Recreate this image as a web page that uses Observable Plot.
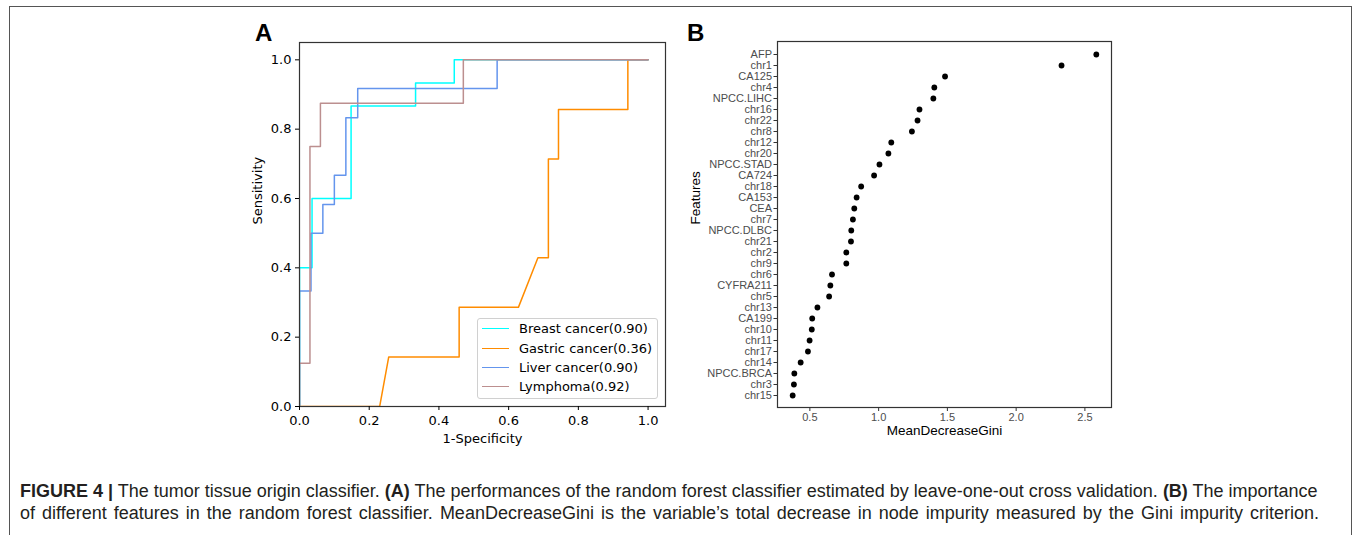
<!DOCTYPE html>
<html><head><meta charset="utf-8">
<script src="https://cdn.jsdelivr.net/npm/d3@7"></script>
<script src="https://cdn.jsdelivr.net/npm/@observablehq/plot@0.6"></script>
<style>
html,body{margin:0;padding:0;background:#fff;}
#page{position:relative;width:1355px;height:535px;overflow:hidden;background:#fff;}
#border{position:absolute;left:9px;top:6px;width:1343px;height:600px;border:1.5px solid #555;box-sizing:border-box;}
.plabel{position:absolute;font-family:"Liberation Sans",Arial,sans-serif;font-weight:bold;font-size:24px;line-height:24px;color:#000;}
#chartA{position:absolute;left:240px;top:20px;}
#chartB{position:absolute;left:680px;top:20px;}
#legendA{position:absolute;left:477px;top:318px;width:181px;height:81px;box-sizing:border-box;border:1px solid #d0d0d0;border-radius:3px;background:rgba(255,255,255,0.85);font-family:"DejaVu Sans",sans-serif;font-size:13px;color:#000;}
.lrow{position:absolute;left:0;height:18px;line-height:18px;white-space:nowrap;}
.lline{position:absolute;left:4px;top:8px;width:27px;height:0;border-top:1.5px solid #000;}
.ltext{position:absolute;left:41px;top:0;}
#caption{position:absolute;left:20px;top:480px;font-family:"Liberation Sans",Arial,sans-serif;font-size:18px;line-height:22px;color:#231f20;white-space:nowrap;}
#caption b{font-weight:bold;}
#cap2{word-spacing:2px;}
</style></head><body>
<div id="page">
  <div id="border"></div>
  <div id="chartA"></div>
  <div id="chartB"></div>
  <div id="legendA"></div>
  <div class="plabel" style="left:255px;top:21px;">A</div>
  <div class="plabel" style="left:687px;top:21px;">B</div>
  <div id="caption"><span id="cap1"><b>FIGURE 4 |</b> The tumor tissue origin classifier. <b>(A)</b> The performances of the random forest classifier estimated by leave-one-out cross validation. <b>(B)</b> The importance</span><br><span id="cap2">of different features in the random forest classifier. MeanDecreaseGini is the variable’s total decrease in node impurity measured by the Gini impurity criterion.</span></div>
</div>
<script>
// ---------- Panel A data: ROC curves ----------
const rocTicks = [0, 0.2, 0.4, 0.6, 0.8, 1.0];
const seriesNames = ["Breast cancer", "Gastric cancer", "Liver cancer", "Lymphoma"];
const aucLabels = ["0.90", "0.36", "0.90", "0.92"];
const seriesColors = ["#00FFFF", "#FF8C00", "#6495ED", "#BC8F8F"];

const breastFpr = [0, 0, 0.036, 0.036, 0.148, 0.148, 0.333, 0.333, 0.444, 0.444, 1.0];
const breastTpr = [0, 0.4, 0.4, 0.6, 0.6, 0.867, 0.867, 0.933, 0.933, 1.0, 1.0];
const gastricFpr = [0, 0.23, 0.256, 0.458, 0.458, 0.628, 0.684, 0.714, 0.714, 0.743, 0.743, 0.942, 0.942, 1.0];
const gastricTpr = [0, 0, 0.143, 0.143, 0.286, 0.286, 0.429, 0.429, 0.714, 0.714, 0.857, 0.857, 1.0, 1.0];
const liverFpr = [0, 0, 0.033, 0.033, 0.067, 0.067, 0.1, 0.1, 0.133, 0.133, 0.167, 0.167, 0.567, 0.567, 1.0];
const liverTpr = [0, 0.333, 0.333, 0.5, 0.5, 0.583, 0.583, 0.667, 0.667, 0.833, 0.833, 0.917, 0.917, 1.0, 1.0];
const lymphFpr = [0, 0, 0.03, 0.03, 0.06, 0.06, 0.47, 0.47, 1.0];
const lymphTpr = [0, 0.125, 0.125, 0.75, 0.75, 0.875, 0.875, 1.0, 1.0];

// ---------- Panel B data: feature importance ----------
const featureNames = ["AFP","chr1","CA125","chr4","NPCC.LIHC","chr16","chr22","chr8","chr12","chr20",
  "NPCC.STAD","CA724","chr18","CA153","CEA","chr7","NPCC.DLBC","chr21","chr2","chr9",
  "chr6","CYFRA211","chr5","chr13","CA199","chr10","chr11","chr17","chr14","NPCC.BRCA","chr3","chr15"];
const giniValues = [2.583, 2.330, 1.483, 1.405, 1.398, 1.297, 1.283, 1.242, 1.092, 1.071,
  1.006, 0.967, 0.873, 0.840, 0.823, 0.813, 0.801, 0.799, 0.765, 0.765,
  0.661, 0.649, 0.640, 0.555, 0.517, 0.514, 0.498, 0.486, 0.433, 0.387, 0.384, 0.375];
const giniTicks = [0.5, 1.0, 1.5, 2.0, 2.5];

// ---------- Build tables ----------
const curves = [[breastFpr, breastTpr], [gastricFpr, gastricTpr], [liverFpr, liverTpr], [lymphFpr, lymphTpr]];
const rocRows = [];
curves.forEach(([fx, ty], i) => fx.forEach((v, j) => rocRows.push({series: seriesNames[i], fpr: v, tpr: ty[j]})));
const giniRows = featureNames.map((f, i) => ({feature: f, gini: giniValues[i]}));

const f1 = d3.format(".1f");

const chartA = Plot.plot({
  width: 440, height: 430,
  marginLeft: 59, marginRight: 15, marginTop: 22, marginBottom: 44,
  style: {fontFamily: "'DejaVu Sans', sans-serif", fontSize: "13px", color: "#000", background: "transparent", overflow: "visible"},
  x: {domain: [0, 1.05]},
  y: {domain: [0, 1.05]},
  color: {domain: seriesNames, range: seriesColors},
  marks: [
    Plot.line(rocRows, {x: "fpr", y: "tpr", z: "series", stroke: "series", strokeWidth: 1.5, clip: true}),
    Plot.frame({stroke: "#333", strokeWidth: 1.2}),
    Plot.axisX({ticks: rocTicks, tickSize: 4, tickPadding: 5, tickFormat: f1, label: null}),
    Plot.axisY({ticks: rocTicks, tickSize: 4, tickPadding: 4, tickFormat: f1, label: null}),
    Plot.text(["1-Specificity"], {frameAnchor: "bottom", text: d => d, dy: 32, lineAnchor: "middle"}),
    Plot.text(["Sensitivity"], {frameAnchor: "left", text: d => d, rotate: -90, dx: -42, lineAnchor: "middle"})
  ]
});
document.getElementById("chartA").appendChild(chartA);

// legend for panel A
const legend = document.getElementById("legendA");
const rowTops = [1, 21, 40, 59];
seriesNames.forEach((name, i) => {
  const row = document.createElement("div");
  row.className = "lrow";
  row.style.top = rowTops[i] + "px";
  const ln = document.createElement("div");
  ln.className = "lline";
  ln.style.borderTopColor = seriesColors[i];
  const tx = document.createElement("div");
  tx.className = "ltext";
  tx.textContent = `${name}(${aucLabels[i]})`;
  row.appendChild(ln); row.appendChild(tx);
  legend.appendChild(row);
});

const ext = d3.extent(giniValues);
const pad = (ext[1] - ext[0]) * 0.05;
const chartB = Plot.plot({
  width: 440, height: 430,
  marginLeft: 97, marginRight: 9, marginTop: 21, marginBottom: 43,
  style: {fontFamily: "'Liberation Sans', Arial, sans-serif", fontSize: "11px", color: "#000", background: "transparent", overflow: "visible"},
  x: {domain: [ext[0] - pad, ext[1] + pad]},
  y: {type: "point", domain: featureNames, padding: 0.6},
  marks: [
    Plot.frame({stroke: "#333", strokeWidth: 1.2}),
    Plot.dot(giniRows, {x: "gini", y: "feature", r: 2.9, fill: "#000", stroke: null}),
    Plot.axisX({ticks: giniTicks, tickSize: 4, tickPadding: 2, tickFormat: f1, fill: "#4d4d4d", stroke: "#333", label: null}),
    Plot.axisY({tickSize: 3.5, tickPadding: 2, fill: "#4d4d4d", stroke: "#333", label: null}),
    Plot.text(["MeanDecreaseGini"], {frameAnchor: "bottom", text: d => d, dy: 23, lineAnchor: "middle", fontSize: 13.5}),
    Plot.text(["Features"], {frameAnchor: "left", text: d => d, rotate: -90, dx: -82, lineAnchor: "middle", fontSize: 13.5})
  ]
});
document.getElementById("chartB").appendChild(chartB);
</script>
</body></html>
